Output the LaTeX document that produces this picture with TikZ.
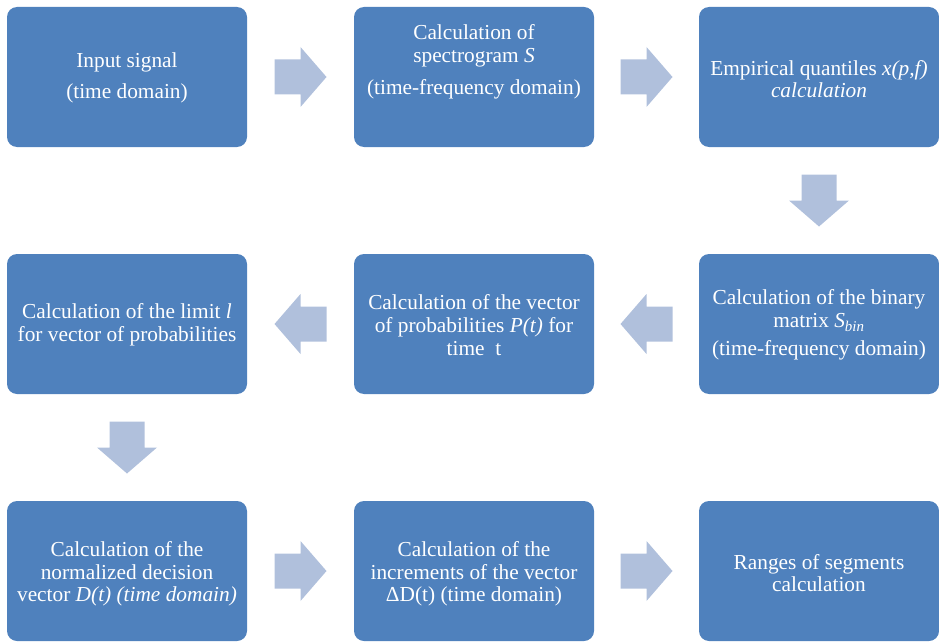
\documentclass[tikz,border=0pt]{standalone}
\usepackage{fontspec}
\setmainfont{Liberation Serif}
\usetikzlibrary{calc}
\definecolor{boxblue}{HTML}{4F81BD}
\definecolor{arrowblue}{HTML}{B0C0DC}
\begin{document}
\begin{tikzpicture}[x=0.75pt,y=-0.75pt,
  box/.style={fill=boxblue, draw=none, rounded corners=7.5pt, minimum width=180pt, minimum height=105pt, inner sep=0pt},
  txt/.style={text=white, align=center, font=\fontsize{16}{17}\selectfont, inner sep=0pt},
  blockarrow/.pic={\fill[arrowblue] (-26,-17.5) -- (0,-17.5) -- (0,-30) -- (26,0) -- (0,30) -- (0,17.5) -- (-26,17.5) -- cycle;}]
\useasboundingbox (0,0) rectangle (939,642);
% boxes
\node[box] (b1) at (127,77) {};
\node[box] (b2) at (474,77) {};
\node[box] (b3) at (819,77) {};
\node[box] (b4) at (819,324) {};
\node[box] (b5) at (474,324) {};
\node[box] (b6) at (127,324) {};
\node[box] (b7) at (127,571) {};
\node[box] (b8) at (474,571) {};
\node[box] (b9) at (819,571) {};
% texts
\node[txt] (t1) at ($(b1.center)+(0,1)$) {Input signal\\[6pt](time domain)};
\node[txt] (t2) at ($(b2.center)+(0,-15)$) {Calculation of\\spectrogram \textit{S}\\[7pt](time-frequency domain)};
\node[txt] (t3) at ($(b3.center)+(0,2)$) {Empirical quantiles \textit{x(p,f)}\\\textit{calculation}};
\node[txt] (t4) at ($(b4.center)+(0,1)$) {Calculation of the binary\\matrix \textit{S}\textsubscript{\textit{bin}}\\[4pt](time-frequency domain)};
\node[txt] (t5) at ($(b5.center)+(0,1)$) {Calculation of the vector\\of probabilities \textit{P(t)} for\\time\ \ t};
\node[txt] (t6) at ($(b6.center)+(0,1)$) {Calculation of the limit \textit{l}\\for vector of probabilities};
\node[txt] (t7) at ($(b7.center)+(0,3)$) {Calculation of the\\normalized decision\\vector \textit{D(t) (time domain)}};
\node[txt] (t8) at ($(b8.center)+(0,3)$) {Calculation of the\\increments of the vector\\ΔD(t) (time domain)};
\node[txt] (t9) at ($(b9.center)+(0,2)$) {Ranges of segments\\calculation};
% block arrows
\coordinate (a12) at ($(b1.east)!0.5!(b2.west)$);
\coordinate (a23) at ($(b2.east)!0.5!(b3.west)$);
\coordinate (a34) at ($(b3.south)!0.5!(b4.north)$);
\coordinate (a45) at ($(b4.west)!0.5!(b5.east)$);
\coordinate (a56) at ($(b5.west)!0.5!(b6.east)$);
\coordinate (a67) at ($(b6.south)!0.5!(b7.north)$);
\coordinate (a78) at ($(b7.east)!0.5!(b8.west)$);
\coordinate (a89) at ($(b8.east)!0.5!(b9.west)$);
\pic at (a12) {blockarrow};
\pic at (a23) {blockarrow};
\pic[rotate=-90] at (a34) {blockarrow};
\pic[rotate=180] at (a45) {blockarrow};
\pic[rotate=180] at (a56) {blockarrow};
\pic[rotate=-90] at (a67) {blockarrow};
\pic at (a78) {blockarrow};
\pic at (a89) {blockarrow};
\end{tikzpicture}
\end{document}
